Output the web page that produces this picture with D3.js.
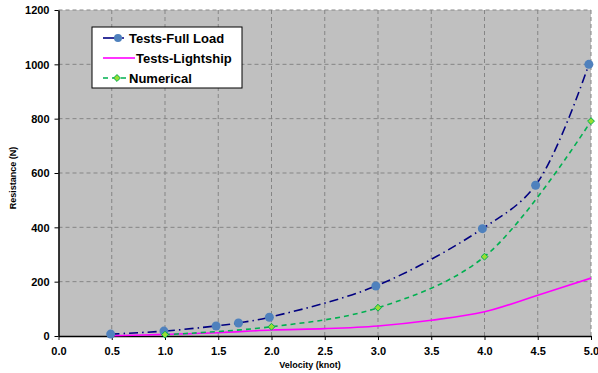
<!DOCTYPE html>
<html>
<head>
<meta charset="utf-8">
<script src="https://cdn.jsdelivr.net/npm/d3@7"></script>
<style>
  body { margin: 0; background: #fff; }
  text { font-family: Arial, "Liberation Sans", sans-serif; font-weight: bold; }
</style>
</head>
<body>
<div id="chart"></div>
<script>
// series data
var fullLoadV = [0.49, 0.99, 1.48, 1.69, 1.98, 2.98, 3.98, 4.48, 4.98];
var fullLoadR = [7, 18, 37, 48, 69, 184, 395, 555, 1000];

var lightshipV = [0.5, 1.0, 1.5, 2.0, 2.5, 3.0, 3.5, 4.0, 4.5, 5.0];
var lightshipR = [1, 6, 12, 22, 27, 37, 58, 89, 150, 213];

var numericalV = [1.0, 2.0, 3.0, 4.0, 5.0];
var numericalR = [5, 34, 104, 292, 791];

var xTicks = [0.0, 0.5, 1.0, 1.5, 2.0, 2.5, 3.0, 3.5, 4.0, 4.5, 5.0];
var yTicks = [0, 200, 400, 600, 800, 1000, 1200];

var legendNames = ["Tests-Full Load", "Tests-Lightship", "Numerical"];

var W = 598, H = 373;
var margin = { top: 10, right: 7, bottom: 37, left: 58.5 };
var width = W - margin.left - margin.right,
    height = H - margin.top - margin.bottom;

var x = d3.scaleLinear().domain([0, 5]).range([0, width]);
var y = d3.scaleLinear().domain([0, 1200]).range([height, 0]);

var svg = d3.select("#chart").append("svg")
  .attr("width", W)
  .attr("height", H);

var g = svg.append("g")
  .attr("transform", "translate(" + margin.left + "," + margin.top + ")");

// plot background
g.append("rect")
  .attr("width", width)
  .attr("height", height)
  .style("fill", "#c0c0c0");

// grid lines
g.append("g")
  .selectAll("line.vg")
  .data(xTicks.slice(1))
  .enter().append("line")
  .attr("x1", d => x(d)).attr("x2", d => x(d))
  .attr("y1", 0).attr("y2", height)
  .style("stroke", "#858585")
  .style("stroke-width", 1)
  .style("stroke-dasharray", "4,3");

g.append("g")
  .selectAll("line.hg")
  .data(yTicks.slice(1))
  .enter().append("line")
  .attr("x1", 0).attr("x2", width)
  .attr("y1", d => y(d)).attr("y2", d => y(d))
  .style("stroke", "#858585")
  .style("stroke-width", 1)
  .style("stroke-dasharray", "4,3");

// axes
var xAxis = g.append("g")
  .attr("transform", "translate(0," + height + ")")
  .call(d3.axisBottom(x).tickValues(xTicks).tickFormat(d3.format(".1f")).tickSize(4).tickSizeOuter(0));
var yAxis = g.append("g")
  .call(d3.axisLeft(y).tickValues(yTicks).tickFormat(d3.format("d")).tickSize(4).tickSizeOuter(0));

[xAxis, yAxis].forEach(function (a) {
  a.select(".domain").style("stroke", "#000").style("stroke-width", 1.5);
  a.selectAll(".tick line").style("stroke", "#000");
  a.selectAll("text")
    .style("font-size", "11px")
    .style("font-family", "Arial, 'Liberation Sans', sans-serif")
    .style("font-weight", "bold")
    .style("fill", "#000");
});
xAxis.selectAll("text").attr("dy", "1.1em");
yAxis.selectAll("text").attr("x", -9).attr("dy", "0.35em");

// lines
var fullLoad = fullLoadV.map((v, i) => ({ v: v, r: fullLoadR[i] }));
var lightship = lightshipV.map((v, i) => ({ v: v, r: lightshipR[i] }));
var numerical = numericalV.map((v, i) => ({ v: v, r: numericalR[i] }));

var line = d3.line()
  .x(d => x(d.v))
  .y(d => y(d.r))
  .curve(d3.curveCatmullRom.alpha(0.5));

g.append("path")
  .datum(lightship)
  .attr("d", line)
  .style("fill", "none")
  .style("stroke", "#ff00ff")
  .style("stroke-width", 1.6);

g.append("path")
  .datum(numerical)
  .attr("d", line)
  .style("fill", "none")
  .style("stroke", "#00b050")
  .style("stroke-width", 1.6)
  .style("stroke-dasharray", "5,4");

g.append("path")
  .datum(fullLoad)
  .attr("d", line)
  .style("fill", "none")
  .style("stroke", "#000080")
  .style("stroke-width", 1.6)
  .style("stroke-dasharray", "9,4,1.5,4");

// markers
g.selectAll("circle.fl")
  .data(fullLoad)
  .enter().append("circle")
  .attr("cx", d => x(d.v))
  .attr("cy", d => y(d.r))
  .attr("r", 4.5)
  .style("fill", "#4f81bd");

var diamond = d3.symbol().type(d3.symbolDiamond2).size(30);
g.selectAll("path.nm")
  .data(numerical)
  .enter().append("path")
  .attr("d", diamond)
  .attr("transform", d => "translate(" + x(d.v) + "," + y(d.r) + ")")
  .style("fill", "#99dd33")
  .style("stroke", "#00b050")
  .style("stroke-width", 1);

// legend
var legend = svg.append("g").attr("transform", "translate(92,27)");
legend.append("rect")
  .attr("width", 150)
  .attr("height", 61)
  .style("fill", "#fff")
  .style("stroke", "#000")
  .style("stroke-width", 1);

var rowY = [11, 31, 51];
// full load
legend.append("line")
  .attr("x1", 11).attr("x2", 24).attr("y1", rowY[0]).attr("y2", rowY[0])
  .style("stroke", "#000080").style("stroke-width", 1.6);
legend.append("line")
  .attr("x1", 30).attr("x2", 32).attr("y1", rowY[0]).attr("y2", rowY[0])
  .style("stroke", "#000080").style("stroke-width", 1.6);
legend.append("circle")
  .attr("cx", 26).attr("cy", rowY[0]).attr("r", 4)
  .style("fill", "#4f81bd");
// lightship
legend.append("line")
  .attr("x1", 11).attr("x2", 43).attr("y1", rowY[1]).attr("y2", rowY[1])
  .style("stroke", "#ff00ff").style("stroke-width", 1.6);
// numerical
legend.append("line")
  .attr("x1", 11).attr("x2", 41).attr("y1", rowY[2]).attr("y2", rowY[2])
  .style("stroke", "#00b050").style("stroke-width", 1.6)
  .style("stroke-dasharray", "5,4");
legend.append("path")
  .attr("d", diamond)
  .attr("transform", "translate(25," + rowY[2] + ")")
  .style("fill", "#99dd33")
  .style("stroke", "#00b050");

legend.selectAll("text.lg")
  .data(legendNames)
  .enter().append("text")
  .attr("x", (d, i) => i === 1 ? 44 : 37)
  .attr("y", (d, i) => rowY[i])
  .attr("dy", "0.36em")
  .style("font-size", "13px")
  .text(d => d);

// axis titles
svg.append("text")
  .attr("transform", "rotate(-90)")
  .attr("x", -178)
  .attr("y", 16)
  .style("text-anchor", "middle")
  .style("font-size", "9px")
  .text("Resistance (N)");

svg.append("text")
  .attr("x", 310)
  .attr("y", 368)
  .style("text-anchor", "middle")
  .style("font-size", "9px")
  .text("Velocity (knot)");
</script>
</body>
</html>
